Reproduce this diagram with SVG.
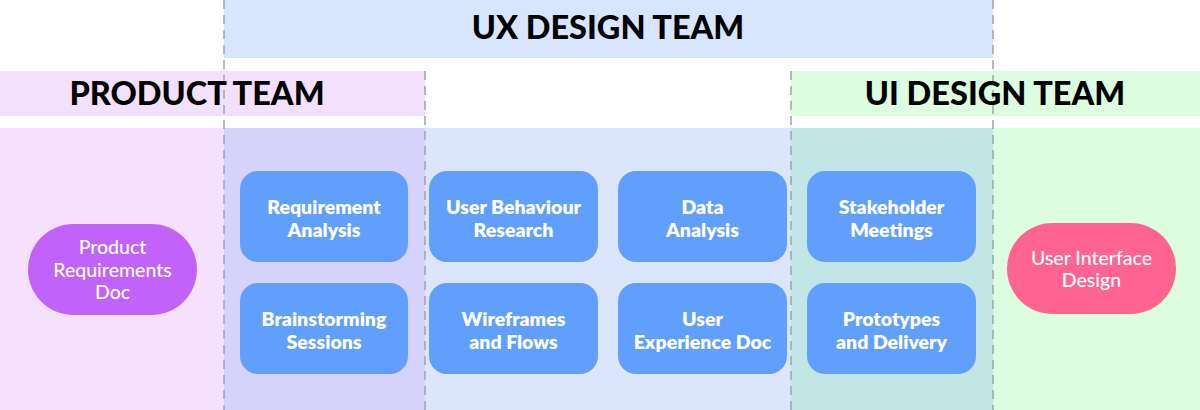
<svg xmlns="http://www.w3.org/2000/svg" width="1200" height="410" viewBox="0 0 1200 410">
<style>
.hdr{font-family:Lato,"Noto Sans","Liberation Sans",sans-serif;font-weight:900;font-size:32.5px;fill:#000;text-anchor:middle}
.box{fill:#619ffc}
.bt{font-family:Lato,"Noto Sans","Liberation Sans",sans-serif;font-weight:800;font-size:19.5px;fill:#fff;text-anchor:middle}
.pt{font-family:Lato,"Noto Sans","Liberation Sans",sans-serif;font-weight:500;font-size:19.5px;fill:#fff;text-anchor:middle}
.dash{stroke:#9ea3ab;stroke-width:1.5;stroke-dasharray:9 6;fill:none}
</style>
<rect width="1200" height="410" fill="#fff"/>
<g id="bands">
<rect x="224" y="0" width="769" height="58" fill="#d8e6fd"/>
<rect x="0" y="71" width="425" height="45" fill="#f3e0fd"/>
<rect x="791" y="71" width="409" height="45" fill="#dcfde0"/>
<rect x="0" y="128" width="224" height="282" fill="#f5e1fd"/>
<rect x="224" y="128" width="201" height="282" fill="#d5d3fb"/>
<rect x="425" y="128" width="366" height="282" fill="#dbe6fd"/>
<rect x="791" y="128" width="202" height="282" fill="#c2e6e6"/>
<rect x="993" y="128" width="207" height="282" fill="#dcfddf"/>
<line class="dash" x1="224" y1="0" x2="224" y2="410"/>
<line class="dash" x1="993" y1="0" x2="993" y2="410"/>
<line class="dash" x1="425" y1="71" x2="425" y2="410"/>
<line class="dash" x1="791" y1="71" x2="791" y2="410"/>
<text class="hdr" x="608" y="39">UX DESIGN TEAM</text>
<text class="hdr" x="197" y="105">PRODUCT TEAM</text>
<text class="hdr" x="995" y="105">UI DESIGN TEAM</text>
</g>
<g id="connectors"/>
<g id="prd">
<rect x="28" y="224" width="169" height="91" rx="45.5" fill="#c163fb"/>
<text class="pt" x="112.5" y="254">Product</text>
<text class="pt" x="112.5" y="277">Requirements</text>
<text class="pt" x="112.5" y="299">Doc</text>
</g>
<g id="req">
<rect class="box" x="240" y="171" width="168" height="91" rx="18"/>
<text class="bt" x="324" y="214">Requirement</text>
<text class="bt" x="324" y="237">Analysis</text>
</g>
<g id="brain">
<rect class="box" x="240" y="283" width="168" height="91" rx="18"/>
<text class="bt" x="324" y="326">Brainstorming</text>
<text class="bt" x="324" y="349">Sessions</text>
</g>
<g id="ubr">
<rect class="box" x="429" y="171" width="169" height="91" rx="18"/>
<text class="bt" x="513.5" y="214">User Behaviour</text>
<text class="bt" x="513.5" y="237">Research</text>
</g>
<g id="wire">
<rect class="box" x="429" y="283" width="169" height="91" rx="18"/>
<text class="bt" x="513.5" y="326">Wireframes</text>
<text class="bt" x="513.5" y="349">and Flows</text>
</g>
<g id="data">
<rect class="box" x="618" y="171" width="169" height="91" rx="18"/>
<text class="bt" x="702.5" y="214">Data</text>
<text class="bt" x="702.5" y="237">Analysis</text>
</g>
<g id="uxd">
<rect class="box" x="618" y="283" width="169" height="91" rx="18"/>
<text class="bt" x="702.5" y="326">User</text>
<text class="bt" x="702.5" y="349">Experience Doc</text>
</g>
<g id="stake">
<rect class="box" x="807" y="171" width="169" height="91" rx="18"/>
<text class="bt" x="891.5" y="214">Stakeholder</text>
<text class="bt" x="891.5" y="237">Meetings</text>
</g>
<g id="proto">
<rect class="box" x="807" y="283" width="169" height="91" rx="18"/>
<text class="bt" x="891.5" y="326">Prototypes</text>
<text class="bt" x="891.5" y="349">and Delivery</text>
</g>
<g id="uid">
<rect x="1007" y="223" width="169" height="91" rx="45.5" fill="#fd6492"/>
<text class="pt" x="1091.5" y="265">User Interface</text>
<text class="pt" x="1091.5" y="287">Design</text>
</g>
</svg>
